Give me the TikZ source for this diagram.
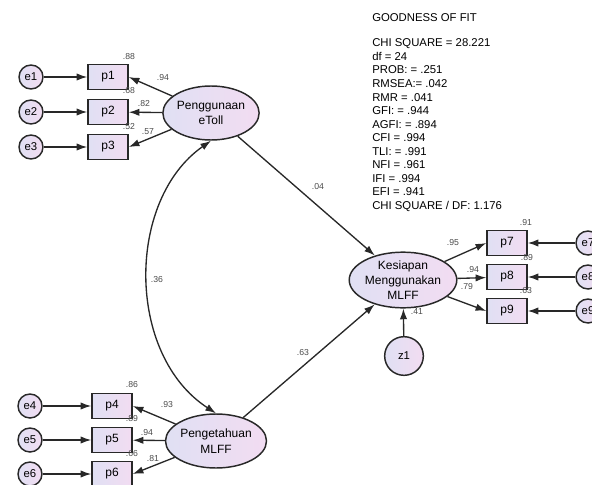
\documentclass[tikz,border=0pt]{standalone}
\usepackage{fontspec}
\setmainfont{Liberation Sans}
\usetikzlibrary{arrows.meta,shapes.geometric}
\definecolor{fillL}{RGB}{224,224,243}
\definecolor{fillR}{RGB}{242,220,242}
\definecolor{linegray}{RGB}{40,40,40}
\definecolor{labgray}{RGB}{75,75,75}
\tikzset{
  obs/.style={draw=linegray, line width=1.1pt, left color=fillL, right color=fillR,
    minimum width=30pt, minimum height=18.5pt, inner sep=0pt, font=\fontsize{9}{10}\selectfont},
  err/.style={circle, draw=linegray, line width=1.1pt, left color=fillL, right color=fillR,
    minimum size=18pt, inner sep=0pt, font=\fontsize{8.5}{10}\selectfont},
  lat/.style={ellipse, draw=linegray, line width=1.1pt, left color=fillL, right color=fillR,
    minimum width=61.5pt, minimum height=40.5pt, inner sep=0pt, align=center,
    font=\fontsize{9}{11.5}\selectfont},
  arr/.style={draw=linegray, line width=1pt, -{Latex[length=8pt,width=5.5pt]}},
  coef/.style={text=labgray, font=\fontsize{6.5}{7}\selectfont, inner sep=0pt},
  gof/.style={font=\fontsize{8.5}{10}\selectfont, inner sep=0pt}
}
\begin{document}
\begin{tikzpicture}[x=0.75pt,y=-0.75pt]
\useasboundingbox (0,0) rectangle (592,485);
% latent variables
\node[lat] (etoll) at (211,113) {Penggunaan\\eToll};
\node[lat] (peng) at (216,441) {Pengetahuan\\MLFF};
\node[lat] (kes) at (403,280) {Kesiapan\\Menggunakan\\MLFF};
% indicators
\node[obs] (p1) at (108,77) {p1};
\node[obs] (p2) at (108,112) {p2};
\node[obs] (p3) at (108,147) {p3};
\node[obs] (p4) at (112,406) {p4};
\node[obs] (p5) at (112,440) {p5};
\node[obs] (p6) at (112,474) {p6};
\node[obs] (p7) at (507,243) {p7};
\node[obs] (p8) at (507,277) {p8};
\node[obs] (p9) at (507,311) {p9};
% errors
\node[err] (e1) at (31,77) {e1};
\node[err] (e2) at (31,112) {e2};
\node[err] (e3) at (31,147) {e3};
\node[err] (e4) at (30,406) {e4};
\node[err] (e5) at (30,440) {e5};
\node[err] (e6) at (30,474) {e6};
\node[err] (e7) at (588,243) {e7};
\node[err] (e8) at (588,277) {e8};
\node[err] (e9) at (588,311) {e9};
\node[err, minimum size=29pt] (z1) at (404,356) {z1};
% paths
\draw[arr] (e1) -- (p1);
\draw[arr] (e2) -- (p2);
\draw[arr] (e3) -- (p3);
\draw[arr] (e4) -- (p4);
\draw[arr] (e5) -- (p5);
\draw[arr] (e6) -- (p6);
\draw[arr] (e7) -- (p7);
\draw[arr] (e8) -- (p8);
\draw[arr] (e9) -- (p9);
\draw[arr] (etoll) -- (p1.east);
\draw[arr] (etoll) -- (p2);
\draw[arr] (etoll) -- (p3.east);
\draw[arr] (peng) -- (p4.east);
\draw[arr] (peng) -- (p5);
\draw[arr] (peng) -- (p6.east);
\draw[arr] (kes) -- (p7.west);
\draw[arr] (kes) -- (p8);
\draw[arr] (kes) -- (p9.west);
\draw[arr] (etoll) -- (kes);
\draw[arr] (peng) -- (kes);
\draw[arr] (z1) -- (kes);
\draw[arr, {Latex[length=8pt,width=5.5pt]}-{Latex[length=8pt,width=5.5pt]}]
  (etoll.south) .. controls (126,200) and (126,355) .. (peng.north);
% estimates
\node[coef] (r1) at (129,57) {.88};
\node[coef] (l1) at (163,78) {.94};
\node[coef] (r2) at (129,91) {.68};
\node[coef] (l2) at (144,104) {.82};
\node[coef] (r3) at (129,127) {.52};
\node[coef] (l3) at (148,132) {.57};
\node[coef] (r4) at (132,385) {.86};
\node[coef] (l4) at (167,405) {.93};
\node[coef] (r5) at (132,419) {.89};
\node[coef] (l5) at (147,433) {.94};
\node[coef] (r6) at (132,454) {.66};
\node[coef] (l6) at (153,459) {.81};
\node[coef] (r7) at (526,223) {.91};
\node[coef] (r8) at (527,258) {.89};
\node[coef] (r9) at (526,291) {.63};
\node[coef] (l7) at (453,243) {.95};
\node[coef] (l8) at (473,270) {.94};
\node[coef] (l9) at (467,287) {.79};
\node[coef] (rk) at (417,312) {.41};
\node[coef] (b1) at (318,187) {.04};
\node[coef] (b2) at (303,353) {.63};
\node[coef] (c1) at (157,280) {.36};
% goodness of fit
\node[gof, anchor=base west] (gofhead) at (372,22) {GOODNESS OF FIT};
\foreach \txt [count=\i] in {CHI SQUARE = 28.221, df = 24, PROB: = .251, RMSEA:= .042,
  RMR = .041, GFI: = .944, AGFI: = .894, CFI = .994, TLI: = .991, NFI = .961,
  IFI = .994, EFI = .941, CHI SQUARE / DF: 1.176}
  \node[gof, anchor=base west] (gof\i) at (372,{47+13.5*(\i-1)}) {\txt};
\end{tikzpicture}
\end{document}
